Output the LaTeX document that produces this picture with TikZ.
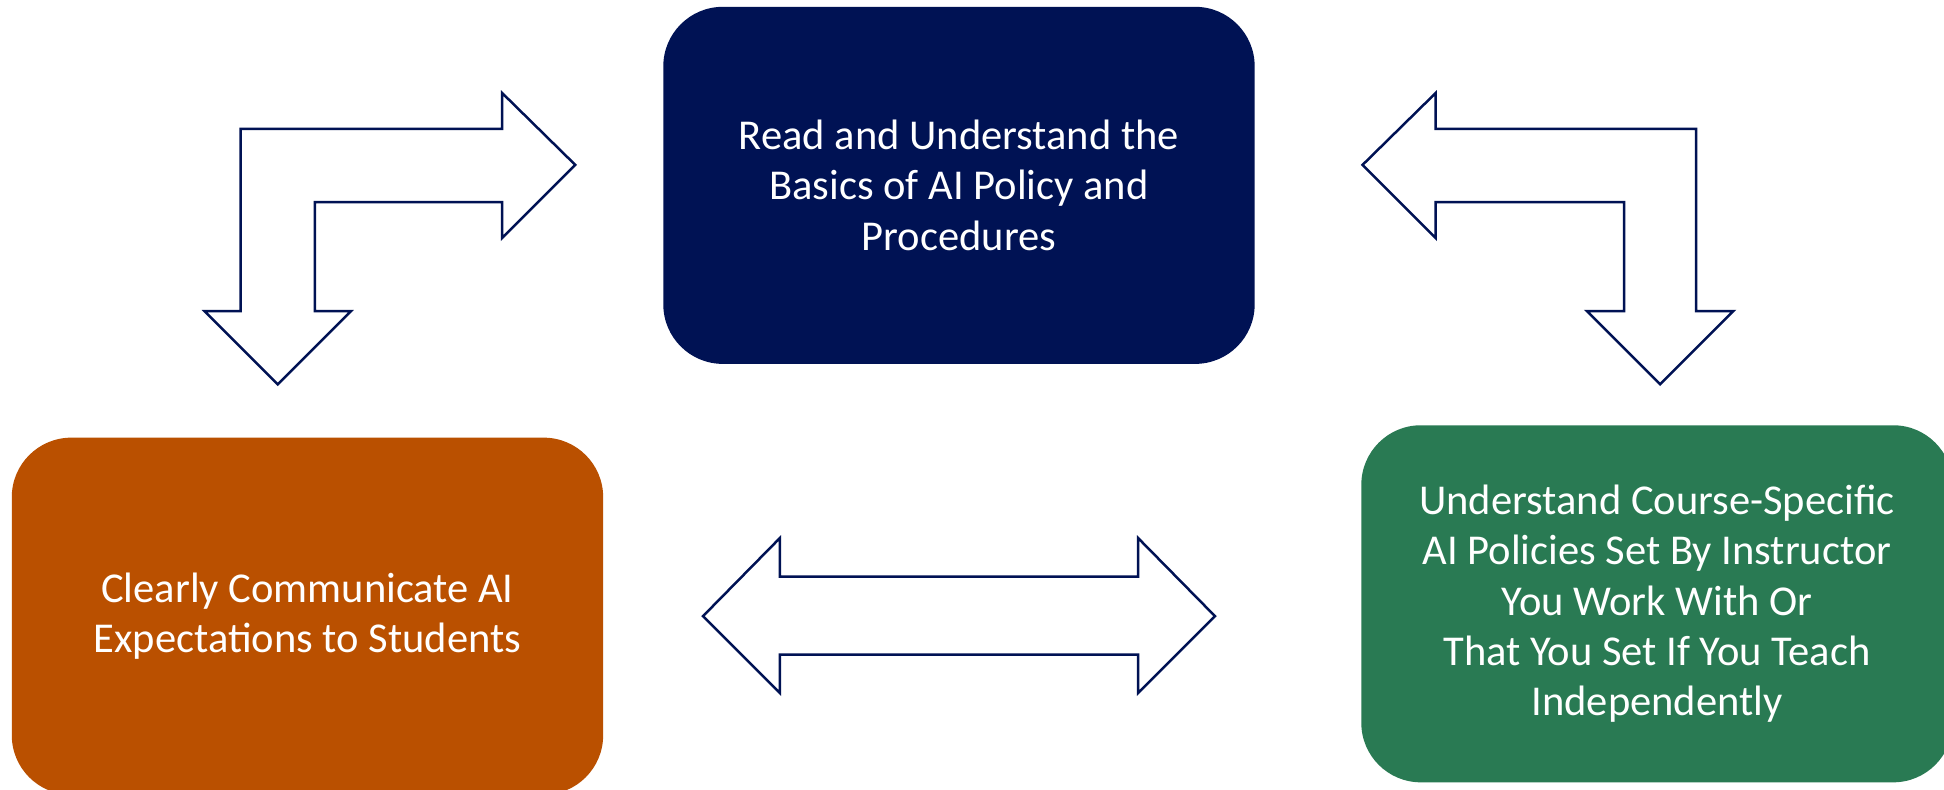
\documentclass[tikz,border=0pt]{standalone}
\usepackage{fontspec}
\setmainfont{Carlito}
\usetikzlibrary{positioning}
\definecolor{policyblue}{RGB}{0,18,84}
\definecolor{courseorange}{RGB}{186,80,0}
\definecolor{coursegreen}{RGB}{41,122,83}

\tikzset{
    stepbox/.style={rounded corners=48pt, minimum width=477pt, minimum height=288pt,
        align=center, text=white, inner sep=0pt, font=\fontsize{34.3}{40.5}\selectfont},
    blockarrow/.style={draw=policyblue, line width=2pt, fill=white, line join=miter}
}

\begin{document}
\begin{tikzpicture}[x=1pt, y=-1pt]
            \clip (0,0) rectangle (1568,637);
            \fill[white] (0,0) rectangle (1568,637);
            % the three steps
            \node[stepbox, fill=policyblue] (basics) at (773.5,149.5) {Read and Understand the\\Basics of AI Policy and\\Procedures};
            \node[stepbox, fill=courseorange] (communicate) at (248,497) {Clearly Communicate AI\\Expectations to Students};
            \node[stepbox, fill=coursegreen] (course) at (1336.5,487) {Understand Course-Specific\\AI Policies Set By Instructor\\You Work With Or\\That You Set If You Teach\\Independently};
            % arrows between them
            \draw[blockarrow] (464,133) -- (405,75) -- (405,104) -- (194,104) -- (194,251) -- (165,251)
                -- (224,310) -- (283,251) -- (254,251) -- (254,163) -- (405,163) -- (405,192) -- cycle;
            \draw[blockarrow] (1099,133) -- (1158,75) -- (1158,104) -- (1368,104) -- (1368,251) -- (1398,251)
                -- (1339,310) -- (1280,251) -- (1310,251) -- (1310,163) -- (1158,163) -- (1158,192) -- cycle;
            \draw[blockarrow] (567,497) -- (629,434) -- (629,465) -- (918,465) -- (918,434) -- (980,497)
                -- (918,559) -- (918,528) -- (629,528) -- (629,559) -- cycle;
\end{tikzpicture}
\end{document}
